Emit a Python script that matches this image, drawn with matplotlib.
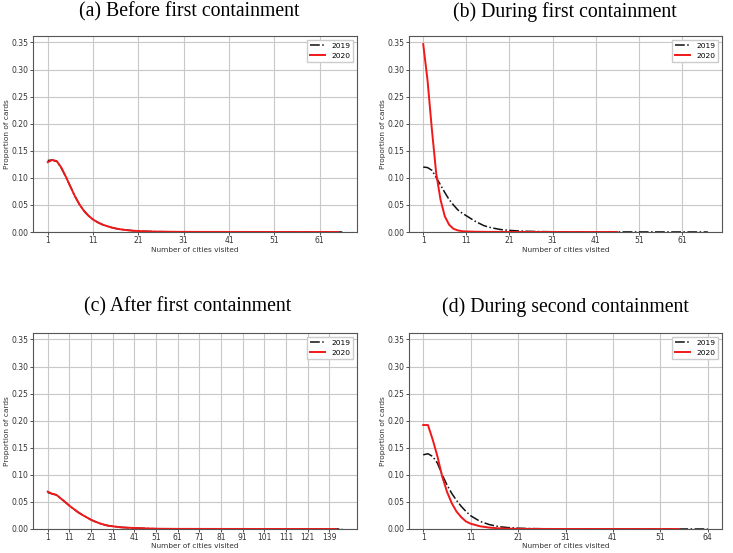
import matplotlib
matplotlib.use("Agg")
import matplotlib.pyplot as plt

# panel (a) before first containment
x_a19 = [1, 2, 3, 4, 5, 6, 7, 8, 9, 10, 11, 12, 13, 14, 15, 16, 17, 18, 19, 20, 21, 23, 25, 28, 32, 40, 50, 66]
y_a19 = [0.132, 0.133, 0.130, 0.118, 0.102, 0.084, 0.066, 0.051, 0.039, 0.030, 0.023, 0.018, 0.014, 0.011,
         0.0085, 0.0065, 0.005, 0.0039, 0.003, 0.0023, 0.0018, 0.0011, 0.0007, 0.0004, 0.0002, 0.0001, 0.00005, 0.0]
x_a20 = [1, 2, 3, 4, 5, 6, 7, 8, 9, 10, 11, 12, 13, 14, 15, 16, 17, 18, 19, 20, 21, 23, 25, 28, 32, 40, 50, 65]
y_a20 = [0.129, 0.133, 0.131, 0.119, 0.102, 0.084, 0.066, 0.051, 0.039, 0.030, 0.023, 0.018, 0.014, 0.011,
         0.0085, 0.0065, 0.005, 0.0039, 0.003, 0.0023, 0.0018, 0.0011, 0.0007, 0.0004, 0.0002, 0.0001, 0.00005, 0.0]

# panel (b) during first containment
x_b19 = [1, 2, 3, 4, 5, 6, 7, 8, 9, 10, 11, 12, 13, 14, 15, 16, 17, 18, 19, 20, 21, 23, 25, 28, 32, 40, 50, 60, 67]
y_b19 = [0.120, 0.119, 0.114, 0.101, 0.087, 0.073, 0.060, 0.050, 0.041, 0.035, 0.030, 0.025, 0.020, 0.016,
         0.012, 0.0095, 0.0075, 0.006, 0.0045, 0.0037, 0.003, 0.002, 0.0013, 0.0008, 0.0004, 0.0002, 0.0001,
         0.00005, 0.0]
x_b20 = [1, 2, 3, 4, 5, 6, 7, 8, 9, 10, 11, 13, 16, 20, 30, 46]
y_b20 = [0.347, 0.28, 0.19, 0.109, 0.060, 0.029, 0.0135, 0.006, 0.003, 0.0015, 0.001, 0.0005, 0.0002, 0.0001,
         0.00003, 0.0]

# panel (c) after first containment
x_c19 = [1, 3, 5, 7, 9, 11, 13, 15, 17, 19, 21, 23, 25, 27, 29, 31, 35, 41, 51, 61, 81, 101, 121, 137]
y_c19 = [0.0675, 0.065, 0.063, 0.0565, 0.050, 0.043, 0.037, 0.031, 0.026, 0.0215, 0.017, 0.0135, 0.0104,
         0.008, 0.006, 0.005, 0.003, 0.0018, 0.0005, 0.0002, 0.0001, 0.00005, 0.00002, 0.0]
x_c20 = [1, 3, 5, 7, 9, 11, 13, 15, 17, 19, 21, 23, 25, 27, 29, 31, 35, 41, 51, 61, 81, 101, 121, 134]
y_c20 = [0.069, 0.065, 0.063, 0.0565, 0.050, 0.043, 0.037, 0.031, 0.026, 0.0215, 0.017, 0.0135, 0.0104,
         0.008, 0.006, 0.005, 0.003, 0.0018, 0.0005, 0.0002, 0.0001, 0.00005, 0.00002, 0.0]

# panel (d) during second containment
x_d19 = [1, 2, 3, 4, 5, 6, 7, 8, 9, 10, 11, 13, 15, 17, 19, 21, 23, 27, 32, 40, 50, 61]
y_d19 = [0.137, 0.139, 0.134, 0.1215, 0.100, 0.0817, 0.066, 0.053, 0.042, 0.0325, 0.0245, 0.014, 0.008,
         0.0043, 0.0025, 0.0015, 0.0009, 0.0004, 0.0002, 0.0001, 0.00005, 0.0]
x_d20 = [1, 2, 3, 4, 5, 6, 7, 8, 9, 10, 11, 13, 15, 17, 19, 21, 25, 30, 40, 55]
y_d20 = [0.192, 0.192, 0.165, 0.134, 0.097, 0.069, 0.048, 0.0325, 0.022, 0.014, 0.0098, 0.005, 0.0025,
         0.0012, 0.0006, 0.0003, 0.0001, 0.00005, 0.00002, 0.0]

titles = ["(a) Before first containment", "(b) During first containment",
          "(c) After first containment", "(d) During second containment"]

ticks_ab = [1, 11, 21, 31, 41, 51, 61]
ticks_c = [1, 11, 21, 31, 41, 51, 61, 71, 81, 91, 101, 111, 121, 131]
labels_c = ["1", "11", "21", "31", "41", "51", "61", "71", "81", "91", "101", "111", "121", "139"]
ticks_d = [1, 11, 21, 31, 41, 51, 61]
labels_d = ["1", "11", "21", "31", "41", "51", "64"]
yticks = [0.0, 0.05, 0.10, 0.15, 0.20, 0.25, 0.30, 0.35]

W, H = 733, 553
fig = plt.figure(figsize=(W / 100, H / 100), dpi=100)

# axes boxes in pixels: left, top, right, bottom
boxes = [(33, 36, 357, 232), (409, 36, 722, 232), (33, 333, 357, 529), (409, 333, 722, 529)]
title_pos = [(189, 12), (565, 12), (188, 307), (565, 307)]

panels = [
    (x_a19, y_a19, x_a20, y_a20, ticks_ab, [str(t) for t in ticks_ab]),
    (x_b19, y_b19, x_b20, y_b20, ticks_ab, [str(t) for t in ticks_ab]),
    (x_c19, y_c19, x_c20, y_c20, ticks_c, labels_c),
    (x_d19, y_d19, x_d20, y_d20, ticks_d, labels_d),
]

for i, (x19, y19, x20, y20, xt, xl) in enumerate(panels):
    l, t, r, b = boxes[i]
    ax = fig.add_axes([l / W, 1 - b / H, (r - l) / W, (b - t) / H])
    ax.plot(x19, y19, color="#111111", linestyle="-.", linewidth=1.1, label="2019")
    ax.plot(x20, y20, color="#f01818", linestyle="-", linewidth=1.4, label="2020")
    ax.set_ylim(0, 0.362)
    ax.set_yticks(yticks)
    ax.set_yticklabels([f"{v:.2f}" for v in yticks])
    ax.set_xticks(xt)
    ax.set_xticklabels(xl)
    ax.grid(True, color="#c8c8c8", linewidth=0.8)
    ax.tick_params(labelsize=5.5, length=2, width=0.6, pad=1, colors="#333333")
    for s in ax.spines.values():
        s.set_color("#555555")
        s.set_linewidth(0.8)
    ax.set_xlabel("Number of cities visited", fontsize=5.3, color="#333333")
    ax.set_ylabel("Proportion of cards", fontsize=5.3, color="#333333")
    # label anchors: xlabel top edge, ylabel right edge
    ax.xaxis.set_label_coords(0.5, -14.5 / (b - t))
    ax.yaxis.set_label_coords(-23 / (r - l), 0.5)
    ax.legend(loc="upper right", fontsize=5.4, framealpha=1, edgecolor="#cccccc", fancybox=False)
    tx, ty = title_pos[i]
    fig.text(tx / W, 1 - ty / H, titles[i], ha="center", va="center",
             fontsize=14.2, family="Liberation Serif")

fig.savefig("out.png", dpi=100)
